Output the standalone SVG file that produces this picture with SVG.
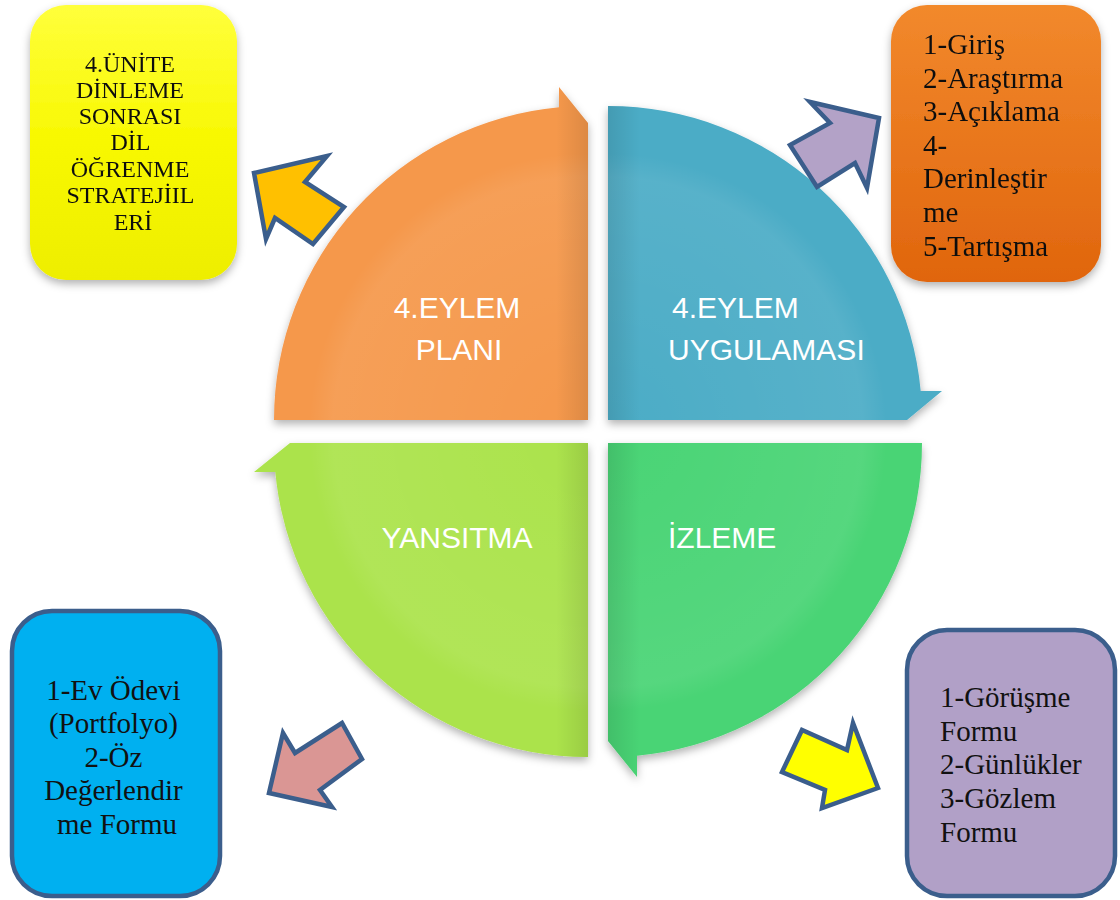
<svg xmlns="http://www.w3.org/2000/svg" width="1120" height="900" viewBox="0 0 1120 900">
  <defs>
    <style>
      .qlabel { font-family: "Liberation Sans", Arial, sans-serif; font-size: 30px; fill: #ffffff; }
      .box-text { font-family: "Liberation Serif", "Times New Roman", serif; font-size: 29px; fill: #111111; }
      .box-text-sm { font-family: "Liberation Serif", "Times New Roman", serif; font-size: 24px; fill: #111111; }
      .arrow { stroke: #3b5e8c; stroke-width: 4.5; stroke-linejoin: miter; }
      .box-stroked { stroke: #3b5e8c; stroke-width: 4.5; }
    </style>
    <filter id="softShadow" x="-10%" y="-10%" width="120%" height="125%">
      <feDropShadow dx="0" dy="4" stdDeviation="4" flood-color="#000000" flood-opacity="0.3"/>
    </filter>
    <linearGradient id="yellowFill" x1="0" y1="0" x2="0" y2="1">
      <stop offset="0" stop-color="#ffff3c"/>
      <stop offset="0.5" stop-color="#f8f800"/>
      <stop offset="1" stop-color="#eeee00"/>
    </linearGradient>
    <linearGradient id="orangeFill" x1="0" y1="0" x2="0" y2="1">
      <stop offset="0" stop-color="#f2892c"/>
      <stop offset="1" stop-color="#e0650d"/>
    </linearGradient>
    <!-- bevel shade along the straight inner edges of the quadrants -->
    <linearGradient id="edgeShadeL" x1="588" y1="0" x2="556" y2="0" gradientUnits="userSpaceOnUse">
      <stop offset="0" stop-color="#000000" stop-opacity="0.10"/>
      <stop offset="1" stop-color="#000000" stop-opacity="0"/>
    </linearGradient>
    <linearGradient id="edgeShadeR" x1="608" y1="0" x2="640" y2="0" gradientUnits="userSpaceOnUse">
      <stop offset="0" stop-color="#000000" stop-opacity="0.10"/>
      <stop offset="1" stop-color="#000000" stop-opacity="0"/>
    </linearGradient>
    <radialGradient id="glowL" cx="588" cy="432" r="300" gradientUnits="userSpaceOnUse">
      <stop offset="0" stop-color="#ffffff" stop-opacity="0"/>
      <stop offset="0.85" stop-color="#ffffff" stop-opacity="0.07"/>
      <stop offset="0.93" stop-color="#ffffff" stop-opacity="0"/>
    </radialGradient>
    <radialGradient id="glowR" cx="608" cy="432" r="300" gradientUnits="userSpaceOnUse">
      <stop offset="0" stop-color="#ffffff" stop-opacity="0"/>
      <stop offset="0.85" stop-color="#ffffff" stop-opacity="0.07"/>
      <stop offset="0.93" stop-color="#ffffff" stop-opacity="0"/>
    </radialGradient>
    <path id="shapePlan" d="M274,420 A314,314 0 0 1 559,107.3 L559,87 L588,123 L588,420 Z"/>
    <path id="shapeApply" d="M608,106 A314,314 0 0 1 920.7,391 L942,391 L907,420 L608,420 Z"/>
    <path id="shapeMonitor" d="M922,443 A314,314 0 0 1 637,755.7 L637,777 L608,741 L608,443 Z"/>
    <path id="shapeReflect" d="M588,757 A314,314 0 0 1 275.3,472 L254,472 L290,443 L588,443 Z"/>
  </defs>

  <!-- cycle quadrants -->
  <g id="quad-plan">
    <use href="#shapePlan" fill="#f5984c" filter="url(#softShadow)"/>
    <use href="#shapePlan" fill="url(#glowL)"/>
    <use href="#shapePlan" fill="url(#edgeShadeL)"/>
    <text class="qlabel" x="457" y="318" text-anchor="middle">4.EYLEM</text>
    <text class="qlabel" x="459" y="360" text-anchor="middle">PLANI</text>
  </g>

  <g id="quad-apply">
    <use href="#shapeApply" fill="#4bacc6" filter="url(#softShadow)"/>
    <use href="#shapeApply" fill="url(#glowR)"/>
    <use href="#shapeApply" fill="url(#edgeShadeR)"/>
    <text class="qlabel" x="672" y="318">4.EYLEM</text>
    <text class="qlabel" x="668" y="360">UYGULAMASI</text>
  </g>

  <g id="quad-monitor">
    <use href="#shapeMonitor" fill="#49d474" filter="url(#softShadow)"/>
    <use href="#shapeMonitor" fill="url(#glowR)"/>
    <use href="#shapeMonitor" fill="url(#edgeShadeR)"/>
    <text class="qlabel" x="668" y="548">İZLEME</text>
  </g>

  <g id="quad-reflect">
    <use href="#shapeReflect" fill="#abe34b" filter="url(#softShadow)"/>
    <use href="#shapeReflect" fill="url(#glowL)"/>
    <use href="#shapeReflect" fill="url(#edgeShadeL)"/>
    <text class="qlabel" x="457" y="548" text-anchor="middle">YANSITMA</text>
  </g>

  <!-- block arrows pointing to the side boxes -->
  <g id="connectors">
    <polygon class="arrow" points="254,173 327,156 305,182 344,207 313,244 275,218 266,239" fill="#ffc000" stroke="#5b8fd2"/>
    <polygon class="arrow" points="879,118 867,188 855,163 817,187 790,145 830,123 810,102" fill="#b3a2c7"/>
    <polygon class="arrow" points="269,793 283,733 295,753 342,723 362,759 320,790 332,807" fill="#da9694"/>
    <polygon class="arrow" points="878,788 853,723 847,750 802,730 782,772 825,790 822,808" fill="#ffff00"/>
  </g>

  <!-- side boxes -->
  <g id="box-strategies" filter="url(#softShadow)">
    <rect x="30" y="5" width="207" height="275" rx="36" fill="url(#yellowFill)"/>
    <text class="box-text-sm" text-anchor="middle">
      <tspan x="133" y="72">4.ÜNİTE</tspan>
      <tspan x="133" y="98">DİNLEME</tspan>
      <tspan x="133" y="124">SONRASI</tspan>
      <tspan x="133" y="150">DİL</tspan>
      <tspan x="133" y="177">ÖĞRENME</tspan>
      <tspan x="133" y="203">STRATEJİIL</tspan>
      <tspan x="133" y="230">ERİ</tspan>
    </text>
  </g>

  <g id="box-steps" filter="url(#softShadow)">
    <rect x="891" y="5" width="210" height="277" rx="36" fill="url(#orangeFill)"/>
    <text class="box-text">
      <tspan x="923" y="54">1-Giriş</tspan>
      <tspan x="923" y="88">2-Araştırma</tspan>
      <tspan x="923" y="121">3-Açıklama</tspan>
      <tspan x="923" y="155">4-</tspan>
      <tspan x="923" y="188">Derinleştir</tspan>
      <tspan x="923" y="222">me</tspan>
      <tspan x="923" y="256">5-Tartışma</tspan>
    </text>
  </g>

  <g id="box-reflection-tools">
    <rect class="box-stroked" x="12" y="611" width="208" height="285" rx="40" fill="#00b0f0"/>
    <text class="box-text" text-anchor="middle">
      <tspan x="117" y="700">1-Ev Ödevi</tspan>
      <tspan x="117" y="733">(Portfolyo)</tspan>
      <tspan x="117" y="767">2-Öz</tspan>
      <tspan x="117" y="800">Değerlendir</tspan>
      <tspan x="117" y="834">me Formu</tspan>
    </text>
  </g>

  <g id="box-monitor-tools">
    <rect class="box-stroked" x="907" y="630" width="208" height="266" rx="40" fill="#b1a0c7"/>
    <text class="box-text">
      <tspan x="940" y="707">1-Görüşme</tspan>
      <tspan x="940" y="741">Formu</tspan>
      <tspan x="940" y="774">2-Günlükler</tspan>
      <tspan x="940" y="808">3-Gözlem</tspan>
      <tspan x="940" y="842">Formu</tspan>
    </text>
  </g>
</svg>
